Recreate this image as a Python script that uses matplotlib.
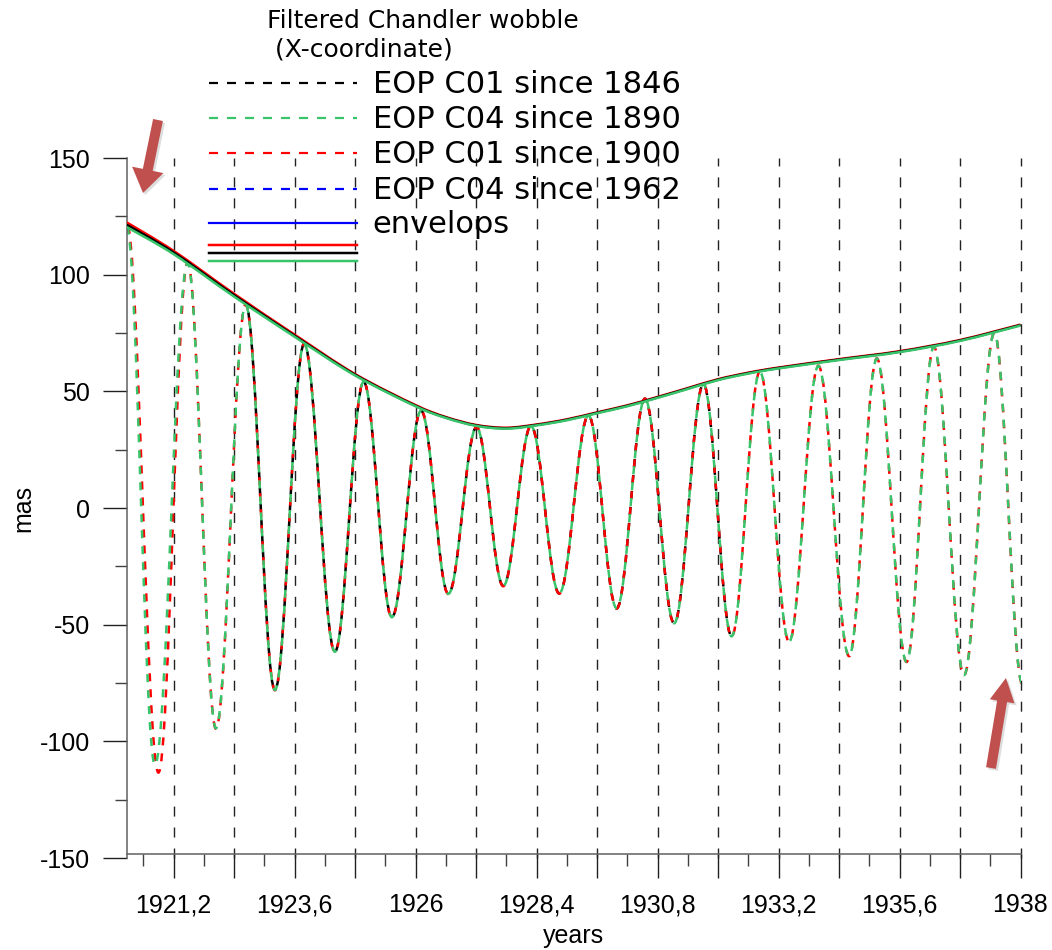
import numpy as np
import matplotlib
matplotlib.use('Agg')
import matplotlib.pyplot as plt
import matplotlib.patheffects as pe
from matplotlib.path import Path
from matplotlib.patches import PathPatch
from matplotlib.lines import Line2D
from matplotlib.ticker import FixedLocator, FixedFormatter, MultipleLocator

plt.rcParams['lines.scale_dashes'] = False
plt.rcParams['axes.unicode_minus'] = False
plt.rcParams['font.family'] = ['Liberation Sans', 'DejaVu Sans']

# turning points (max / min) of the filtered X-coordinate, mas
c04_1890_years = [1920.27, 1920.83, 1921.48, 1922.04, 1922.63, 1923.21, 1923.79, 1924.40,
                  1924.97, 1925.53, 1926.11, 1926.65, 1927.21, 1927.74, 1928.29, 1928.85,
                  1929.43, 1929.99, 1930.55, 1931.13, 1931.71, 1932.27, 1932.83, 1933.41,
                  1933.99, 1934.60, 1935.15, 1935.74, 1936.28, 1936.88, 1937.48, 1938.04]
c04_1890_mas = [120.4, -110.1, 104.9, -94.4, 87.0, -78.0, 70.3, -61.6,
                54.1, -46.8, 41.7, -36.8, 34.6, -33.4, 35.1, -36.6,
                39.6, -43.0, 46.8, -49.4, 53.1, -55.0, 58.4, -57.3,
                60.9, -63.4, 64.0, -65.9, 69.1, -71.6, 74.9, -75.5]

c01_1900_years = [1920.27, 1920.90, 1921.48, 1922.04, 1922.63, 1923.21, 1923.79, 1924.40,
                  1924.97, 1925.53, 1926.11, 1926.65, 1927.21, 1927.74, 1928.29, 1928.85,
                  1929.43, 1929.99, 1930.55, 1931.13, 1931.71, 1932.27, 1932.83, 1933.41,
                  1933.99, 1934.60, 1935.15, 1935.74, 1936.28, 1936.88, 1937.48, 1938.04]
c01_1900_mas = [122.4, -113.4, 105.2, -94.6, 87.2, -78.1, 70.4, -61.7,
                54.2, -46.9, 41.8, -36.9, 34.7, -33.5, 35.2, -36.7,
                39.7, -43.1, 46.9, -49.5, 53.2, -55.1, 58.5, -57.4,
                61.0, -63.5, 64.1, -66.0, 69.2, -71.7, 75.0, -75.6]

c01_1846_years = [1922.63, 1923.21, 1923.79, 1924.40, 1924.97, 1925.53, 1926.11, 1926.65,
                  1927.21, 1927.74, 1928.29, 1928.85, 1929.43, 1929.99, 1930.55, 1931.13,
                  1931.71, 1932.27]
c01_1846_mas = [87.1, -78.0, 70.3, -61.6, 54.1, -46.8, 41.7, -36.8,
                34.6, -33.4, 35.1, -36.6, 39.6, -43.0, 46.8, -49.4,
                53.1, -55.0]

# envelopes
env_years = [1920.27, 1921.2, 1922.4, 1923.6, 1924.8, 1926.0, 1926.6, 1927.2, 1927.8, 1928.4,
             1929.0, 1929.6, 1930.2, 1930.8, 1931.4, 1932.0, 1932.6, 1933.2, 1934.4, 1935.6,
             1936.8, 1938.0]
env_c01_1900 = [122.4, 110.2, 91.8, 74.3, 57.4, 44.1, 39.0, 35.6, 34.4, 35.8,
                38.0, 41.0, 44.0, 47.6, 51.4, 55.2, 58.0, 60.2, 63.8, 67.2,
                72.0, 78.6]
env_c01_1846 = [121.4, 109.5, 91.2, 73.8, 57.1, 43.8, 38.8, 35.4, 34.2, 35.6,
                37.8, 40.8, 43.8, 47.4, 51.2, 55.0, 57.8, 60.0, 63.6, 67.0,
                71.8, 78.4]
env_c04_1890 = [120.4, 108.8, 90.6, 73.4, 56.8, 43.6, 38.6, 35.2, 34.0, 35.4,
                37.6, 40.6, 43.6, 47.2, 51.0, 54.8, 57.6, 59.8, 63.4, 66.8,
                71.6, 78.2]

grid_years = [1921.2, 1922.4, 1923.6, 1924.8, 1926.0, 1927.2, 1928.4, 1929.6,
              1930.8, 1932.0, 1933.2, 1934.4, 1935.6, 1936.8, 1938.0]
grid_labels = ['1921,2', '', '1923,6', '', '1926', '', '1928,4', '',
               '1930,8', '', '1933,2', '', '1935,6', '', '1938']

legend_labels = ['EOP C01 since 1846', 'EOP C04 since 1890', 'EOP C01 since 1900',
                 'EOP C04 since 1962', 'envelops']

GREEN = '#38c46a'
RED = '#ff0000'
BLUE = '#0000ff'
BLACK = '#000000'
ARROW = '#c0504d'

W, H = 1052, 950
K = 1 - 2 / np.pi  # bezier handle giving a half-cosine between turning points


def wobble_path(t, v):
    verts = [(t[0], v[0])]
    codes = [Path.MOVETO]
    for t0, v0, t1, v1 in zip(t[:-1], v[:-1], t[1:], v[1:]):
        dt = t1 - t0
        verts += [(t0 + K * dt, v0), (t1 - K * dt, v1), (t1, v1)]
        codes += [Path.CURVE4] * 3
    return Path(verts, codes)


def smooth_path(t, v):
    # catmull-rom through the points, as cubic bezier pieces
    p = np.column_stack([t, v])
    q = np.vstack([p[0], p, p[-1]])
    verts = [p[0]]
    codes = [Path.MOVETO]
    for i in range(len(p) - 1):
        p0, p1, p2, p3 = q[i], q[i + 1], q[i + 2], q[i + 3]
        verts += [p1 + (p2 - p0) / 6, p2 - (p3 - p1) / 6, p2]
        codes += [Path.CURVE4] * 3
    return Path(verts, codes)


def fx(px):
    return px / W


def fy(py):
    return 1 - py / H


fig = plt.figure(figsize=(W / 100, H / 100), dpi=100)
ax = fig.add_axes([126.7 / W, (H - 858) / H, (1020.5 - 126.7) / W, 700 / H])
ax.set_xlim(1920.27, 1938.0)
ax.set_ylim(-150, 150)

# oscillations, dashed, green on top of red on top of black
px = 72 / 100
dash = 8 * px
for t, v, col, off, z in [(c01_1846_years, c01_1846_mas, BLACK, 8 * px, 2.0),
                          (c01_1900_years, c01_1900_mas, RED, 12 * px, 2.1),
                          (c04_1890_years, c04_1890_mas, GREEN, 0.0, 2.2)]:
    ax.add_patch(PathPatch(wobble_path(t, v), fill=False, edgecolor=col, lw=2.5 * px,
                           linestyle=(off, (dash, dash)), zorder=z))

for env, col, z in [(env_c01_1900, RED, 3.0), (env_c01_1846, BLACK, 3.1),
                    (env_c04_1890, GREEN, 3.2)]:
    ax.add_patch(PathPatch(smooth_path(env_years, env), fill=False, edgecolor=col,
                           lw=2.5 * px, zorder=z))

# axes and ticks
for s in ['top', 'right']:
    ax.spines[s].set_visible(False)
for s in ['left', 'bottom']:
    ax.spines[s].set_color('#606060')
    ax.spines[s].set_linewidth(1.1)
ax.spines['bottom'].set_position(('data', -148.3))

ax.xaxis.set_major_locator(FixedLocator(grid_years))
ax.xaxis.set_major_formatter(FixedFormatter(grid_labels))
ax.xaxis.set_minor_locator(FixedLocator([g - 0.6 for g in grid_years]))
ax.yaxis.set_major_locator(MultipleLocator(50))
ax.yaxis.set_minor_locator(MultipleLocator(25))

ax.tick_params(axis='both', which='major', direction='out', length=17.3, width=1.0,
               labelsize=18, color='#202020')
ax.tick_params(axis='both', which='minor', direction='out', length=8.6, width=1.0,
               color='#404040')
ax.tick_params(axis='y', which='major', pad=8.9)
ax.tick_params(axis='x', which='major', pad=11)

ax.grid(axis='x', which='major', color='#222222', lw=1.0, ls=(0, (7.2, 7.9)), zorder=0.5)
ax.set_axisbelow(True)
for gl in ax.get_xgridlines():
    gl.set_clip_on(False)

ax.set_xlabel('years', fontsize=18)
ax.set_ylabel('mas', fontsize=18)
ax.xaxis.set_label_coords(0.5, -0.094)
ax.yaxis.set_label_coords(-0.102, 0.5)

# legend block
fig.text(fx(267), fy(28.3), 'Filtered Chandler wobble', fontsize=18,
         family='DejaVu Sans', va='baseline')
fig.text(fx(267), fy(56.7), ' (X-coordinate)', fontsize=18,
         family='DejaVu Sans', va='baseline')

rows_y = [82.7, 118.3, 153.3, 189.0, 223.3]
row_styles = [(BLACK, '--'), (GREEN, '--'), (RED, '--'), (BLUE, '--'), (BLUE, '-')]
for y, (col, ls), lab in zip(rows_y, row_styles, legend_labels):
    style = (0, (9 * px, 9 * px)) if ls == '--' else '-'
    fig.add_artist(Line2D([fx(209), fx(357)], [fy(y), fy(y)], color=col,
                          lw=2.2 * px, ls=style, transform=fig.transFigure))
    fig.text(fx(372.6), fy(y + 10), lab, fontsize=22, family='DejaVu Sans',
             va='baseline')
for y, col in [(245.0, RED), (252.7, BLACK), (260.7, GREEN)]:
    fig.add_artist(Line2D([fx(209), fx(357)], [fy(y), fy(y)], color=col,
                          lw=2.5 * px, transform=fig.transFigure))

# pointer arrows
shadow = [pe.SimplePatchShadow(offset=(1.5, -1.5), alpha=0.18, shadow_rgbFace='#444444'),
          pe.Normal()]
for tip, tail, hl, hw in [((143, H - 193), (158, H - 120), 1.7, 2.3),
                          ((1006, H - 678), (991, H - 768), 1.7, 1.8)]:
    ann = ax.annotate('', xy=tip, xytext=tail, xycoords='figure pixels',
                      textcoords='figure pixels', annotation_clip=False,
                      arrowprops=dict(arrowstyle='simple,head_length=%g,head_width=%g,tail_width=0.72'
                                      % (hl, hw), fc=ARROW, ec='none',
                                      shrinkA=0, shrinkB=0, mutation_scale=10))
    ann.arrow_patch.set_path_effects(shadow)

fig.savefig('out.png', dpi=100)
